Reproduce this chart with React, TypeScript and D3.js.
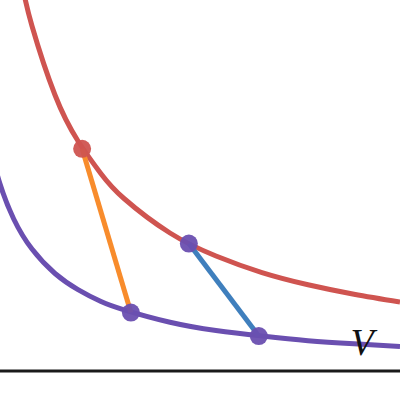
import React from "react";
import * as d3 from "d3";

// Red (upper) curve samples: volume and pressure
const redV = [1.8, 2, 2.5, 3, 3.5, 4, 5, 6, 7, 8, 9, 10];
const redP = [8.33, 7.5, 6.0, 5.0, 4.29, 3.75, 3.0, 2.5, 2.14, 1.875, 1.67, 1.5];
// Purple (lower) curve samples
const purpleV = [1.1, 1.3, 1.6, 2, 2.5, 3, 3.5, 4, 5, 6, 7, 8, 9, 10];
const purpleP = [4.82, 4.08, 3.31, 2.65, 2.12, 1.77, 1.51, 1.33, 1.06, 0.88, 0.76, 0.66, 0.59, 0.53];
// Segments: [V1, P1, V2, P2]
const orangeSeg = [3.09, 4.83, 4.15, 1.27];
const blueSeg = [5.41, 2.77, 6.93, 0.76];
const axisLabel = "V";

export default function App() {
  const W = 400, H = 400;
  const x = d3.scaleLinear().domain([0, 10]).range([-60, 400]);
  const y = d3.scaleLinear().domain([0, 8]).range([371, 3]);
  const line = d3
    .line<[number, number]>()
    .x((d) => x(d[0]))
    .y((d) => y(d[1]))
    .curve(d3.curveNatural);
  const redPts = redV.map((v, i) => [v, redP[i]] as [number, number]);
  const purplePts = purpleV.map((v, i) => [v, purpleP[i]] as [number, number]);
  const red = "#cf5450";
  const purple = "#6a4fb0";
  const orange = "#f88c2c";
  const blue = "#3f7fbd";
  const r = 9;
  return (
    <svg
      width={W}
      height={H}
      style={{ position: "fixed", left: 0, top: 0, background: "#fff" }}
    >
      <defs>
        <clipPath id="c">
          <rect x={0} y={0} width={W} height={H} />
        </clipPath>
      </defs>
      <g clipPath="url(#c)">
        <path d={line(redPts) || ""} fill="none" stroke={red} strokeWidth={5} />
        <path d={line(purplePts) || ""} fill="none" stroke={purple} strokeWidth={5} />
        <line
          x1={x(orangeSeg[0])}
          y1={y(orangeSeg[1])}
          x2={x(orangeSeg[2])}
          y2={y(orangeSeg[3])}
          stroke={orange}
          strokeWidth={5}
        />
        <line
          x1={x(blueSeg[0])}
          y1={y(blueSeg[1])}
          x2={x(blueSeg[2])}
          y2={y(blueSeg[3])}
          stroke={blue}
          strokeWidth={5}
        />
        <circle cx={x(orangeSeg[0])} cy={y(orangeSeg[1])} r={r} fill={red} fillOpacity={0.95} />
        <circle cx={x(orangeSeg[2])} cy={y(orangeSeg[3])} r={r} fill={purple} fillOpacity={0.95} />
        <circle cx={x(blueSeg[0])} cy={y(blueSeg[1])} r={r} fill={purple} fillOpacity={0.95} />
        <circle cx={x(blueSeg[2])} cy={y(blueSeg[3])} r={r} fill={purple} fillOpacity={0.95} />
        <line x1={0} x2={W} y1={y(0)} y2={y(0)} stroke="#1a1a1a" strokeWidth={3} />
        <text
          x={362}
          y={355}
          textAnchor="middle"
          fontFamily="'Liberation Serif', 'DejaVu Serif', serif"
          fontStyle="italic"
          fontSize={38}
          fill="#111"
        >
          {axisLabel}
        </text>
      </g>
    </svg>
  );
}
